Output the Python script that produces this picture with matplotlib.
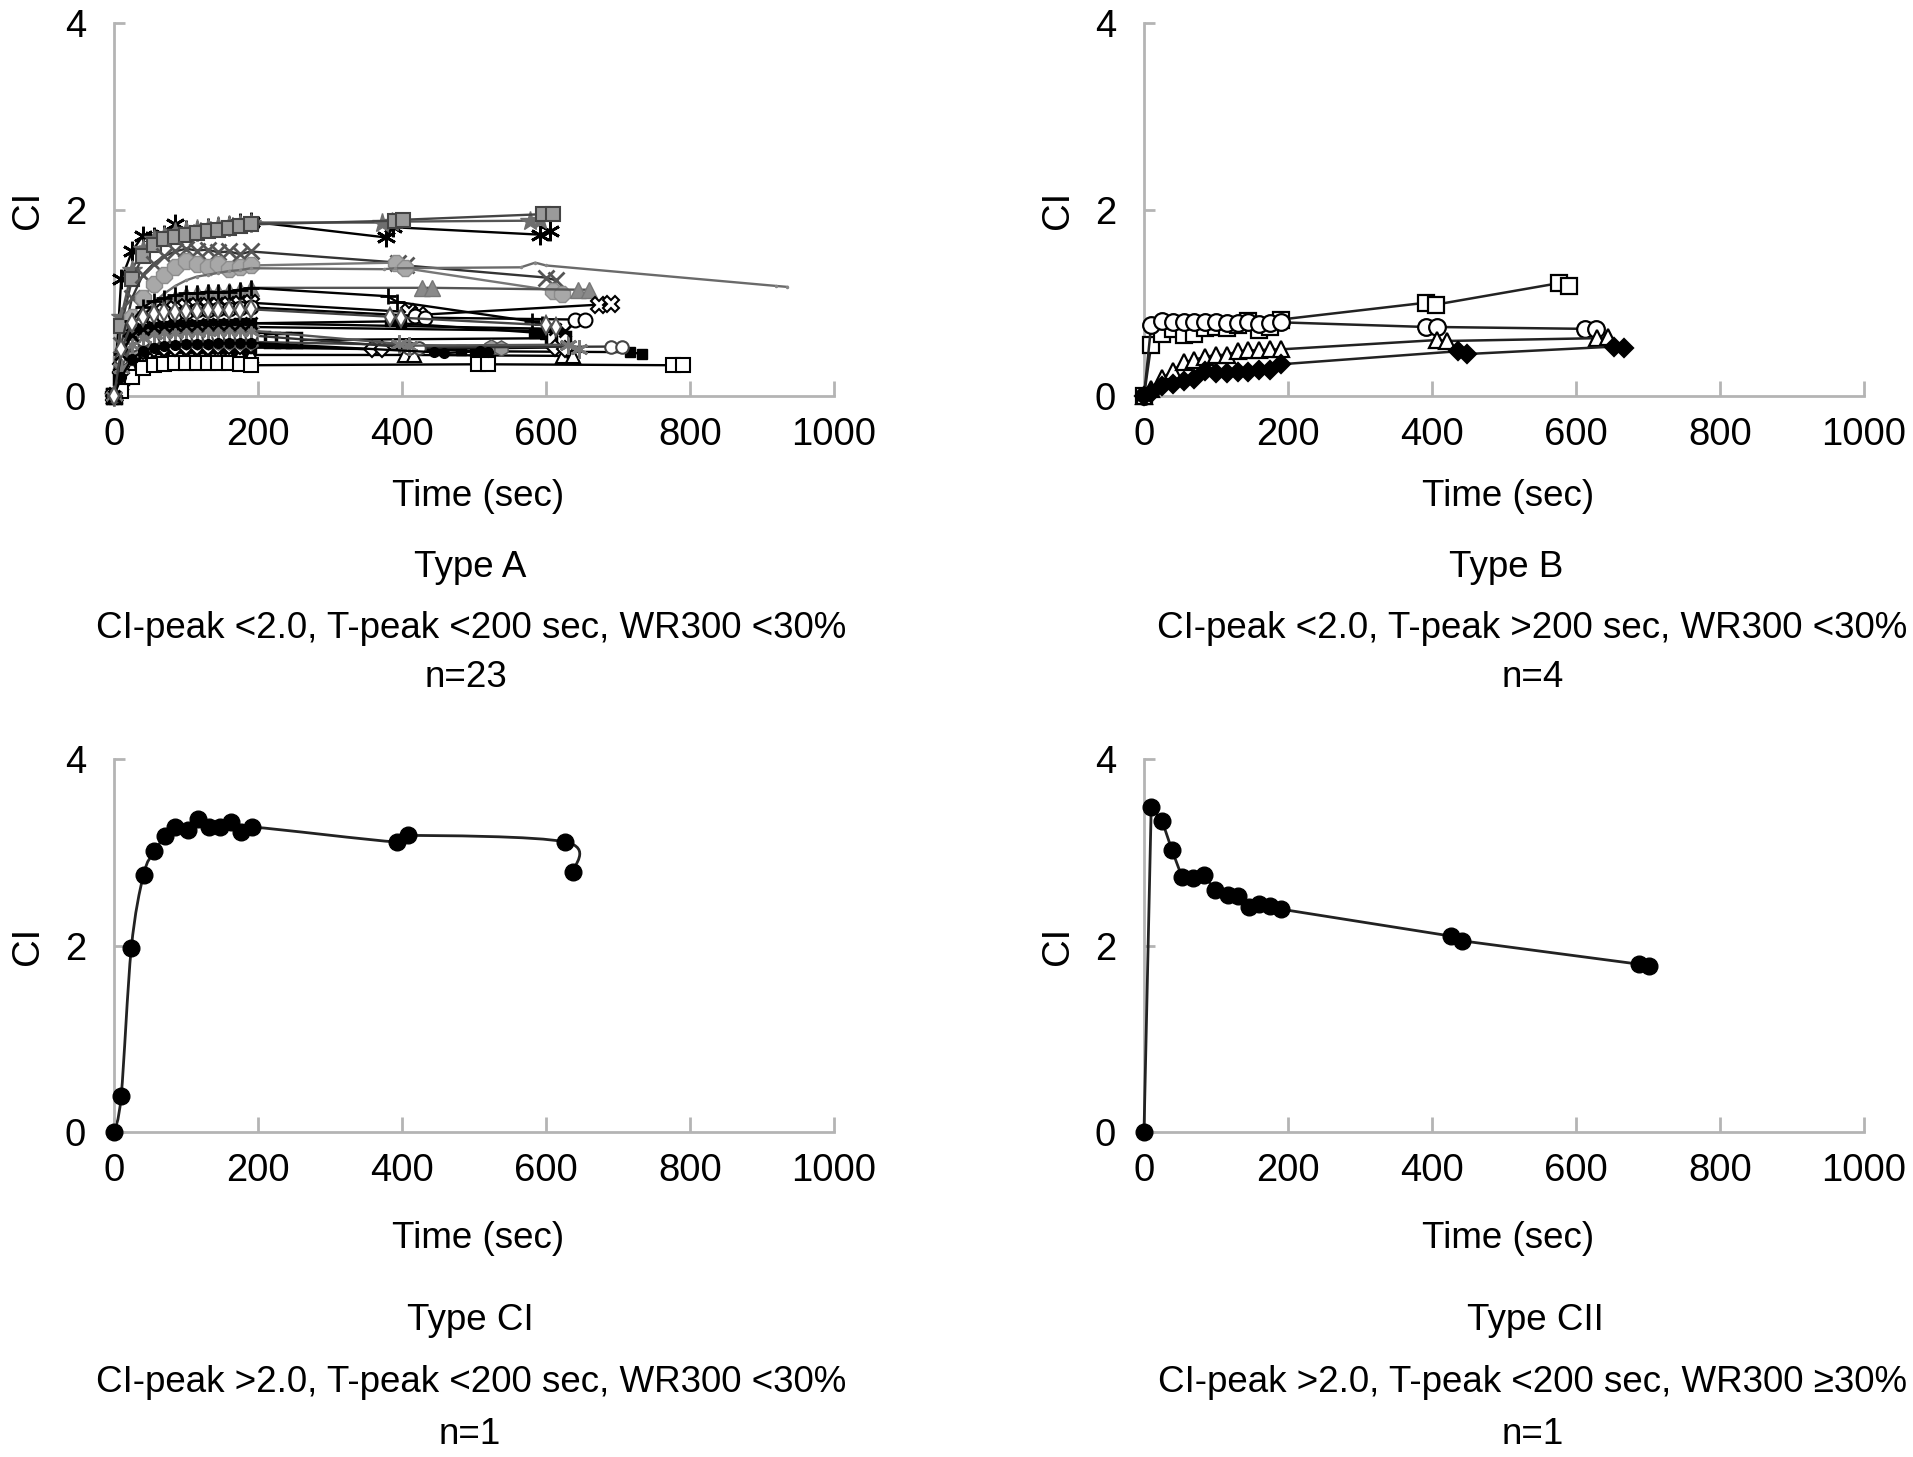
import matplotlib
matplotlib.use('Agg')
import matplotlib.pyplot as plt
from matplotlib.path import Path
from matplotlib.patches import PathPatch

plt.rcParams['font.family'] = ['Liberation Sans', 'DejaVu Sans']

# ---------------- data ----------------
# common early sampling times (sec)
t_early = [0, 10, 25, 40, 55, 70, 85, 100, 115, 130, 145, 160, 175, 190]

# Type A: 23 curves, CI at the early times, then a few late samples
typeA_early_ci = [
    [0, 1.25, 1.55, 1.72, 1.70, 1.73, 1.84, 1.78, 1.77, 1.80, 1.81, 1.82, 1.86, 1.87],
    [0, 0.85, 1.35, 1.58, 1.68, 1.72, 1.76, 1.78, 1.79, 1.80, 1.82, 1.83, 1.84, 1.86],
    [0, 0.75, 1.25, 1.50, 1.62, 1.68, 1.70, 1.73, 1.75, 1.77, 1.78, 1.80, 1.82, 1.84],
    [0, 0.55, 1.05, 1.30, 1.42, 1.50, 1.55, 1.58, 1.56, 1.57, 1.54, 1.55, 1.52, 1.55],
    [0, 0.40, 0.85, 1.05, 1.20, 1.30, 1.38, 1.45, 1.42, 1.38, 1.42, 1.36, 1.38, 1.40],
    [0, 0.30, 0.60, 0.85, 1.00, 1.10, 1.18, 1.24, 1.28, 1.30, 1.32, 1.34, 1.35, 1.37],
    [0, 0.35, 0.65, 0.85, 0.95, 1.00, 1.05, 1.08, 1.10, 1.12, 1.12, 1.13, 1.14, 1.16],
    [0, 0.45, 0.80, 0.95, 1.02, 1.05, 1.08, 1.10, 1.10, 1.12, 1.11, 1.12, 1.14, 1.16],
    [0, 0.30, 0.60, 0.75, 0.85, 0.90, 0.93, 0.95, 0.96, 0.97, 0.97, 0.98, 0.99, 1.00],
    [0, 0.30, 0.55, 0.70, 0.80, 0.85, 0.88, 0.90, 0.92, 0.92, 0.93, 0.93, 0.94, 0.95],
    [0, 0.40, 0.62, 0.72, 0.74, 0.75, 0.76, 0.76, 0.76, 0.77, 0.77, 0.77, 0.78, 0.78],
    [0, 0.35, 0.60, 0.68, 0.70, 0.71, 0.72, 0.72, 0.72, 0.72, 0.73, 0.73, 0.73, 0.74],
    [0, 0.20, 0.45, 0.55, 0.58, 0.60, 0.60, 0.60, 0.60, 0.60, 0.60, 0.60, 0.61, 0.61],
    [0, 0.15, 0.30, 0.38, 0.40, 0.42, 0.42, 0.43, 0.43, 0.43, 0.43, 0.44, 0.44, 0.44],
    [0, 0.05, 0.20, 0.30, 0.33, 0.34, 0.35, 0.35, 0.35, 0.35, 0.35, 0.35, 0.34, 0.33],
    [0, 0.30, 0.42, 0.48, 0.50, 0.50, 0.51, 0.51, 0.52, 0.52, 0.52, 0.52, 0.52, 0.52],
    [0, 0.25, 0.42, 0.48, 0.50, 0.52, 0.52, 0.53, 0.53, 0.53, 0.54, 0.54, 0.54, 0.55],
    [0, 0.35, 0.50, 0.55, 0.57, 0.58, 0.58, 0.58, 0.58, 0.58, 0.58, 0.58, 0.58, 0.58],
    [0, 0.40, 0.55, 0.60, 0.62, 0.63, 0.63, 0.64, 0.64, 0.64, 0.64, 0.65, 0.65, 0.65],
    [0, 0.30, 0.55, 0.62, 0.66, 0.68, 0.68, 0.69, 0.69, 0.70, 0.70, 0.70, 0.70, 0.70],
    [0, 0.45, 0.65, 0.72, 0.74, 0.75, 0.76, 0.76, 0.76, 0.77, 0.77, 0.77, 0.77, 0.78],
    [0, 0.20, 0.40, 0.48, 0.52, 0.54, 0.55, 0.56, 0.56, 0.56, 0.57, 0.57, 0.57, 0.57],
    [0, 0.50, 0.78, 0.85, 0.88, 0.90, 0.90, 0.91, 0.91, 0.92, 0.92, 0.92, 0.92, 0.93],
]
typeA_late_t = [
    [378, 388, 592, 606],
    [372, 386, 578, 592],
    [390, 402, 596, 610],
    [395, 405, 600, 614],
    [392, 404, 610, 622],
    [375, 390, 565, 585, 600, 920, 935],
    [428, 442, 645, 660],
    [380, 393, 580, 594],
    [410, 424, 674, 690],
    [418, 432, 640, 654],
    [384, 398, 584, 598],
    [590, 604],
    [205, 220, 235, 250, 610, 624],
    [404, 416, 624, 638],
    [506, 520, 776, 790],
    [482, 502, 716, 734],
    [358, 372, 612, 626],
    [524, 538],
    [410, 424, 690, 706],
    [396, 410, 630, 646],
    [612, 626],
    [444, 458, 508, 520],
    [384, 398, 600, 614],
]
typeA_late_ci = [
    [1.70, 1.81, 1.73, 1.77],
    [1.86, 1.87, 1.88, 1.89],
    [1.88, 1.89, 1.95, 1.95],
    [1.43, 1.40, 1.27, 1.24],
    [1.43, 1.37, 1.13, 1.09],
    [1.36, 1.37, 1.38, 1.43, 1.40, 1.18, 1.17],
    [1.16, 1.16, 1.14, 1.14],
    [1.07, 1.01, 0.80, 0.77],
    [0.90, 0.87, 0.98, 0.99],
    [0.86, 0.84, 0.82, 0.82],
    [0.80, 0.78, 0.68, 0.66],
    [0.70, 0.68],
    [0.61, 0.60, 0.60, 0.60, 0.62, 0.61],
    [0.44, 0.44, 0.43, 0.43],
    [0.34, 0.34, 0.33, 0.33],
    [0.49, 0.48, 0.47, 0.45],
    [0.50, 0.50, 0.52, 0.50],
    [0.53, 0.52],
    [0.52, 0.52, 0.53, 0.53],
    [0.56, 0.54, 0.55, 0.50],
    [0.72, 0.70],
    [0.47, 0.46, 0.48, 0.47],
    [0.85, 0.84, 0.76, 0.74],
]

# Type B: 4 curves
typeB_t = [0, 10, 25, 40, 55, 70, 85, 100, 115, 130, 145, 160, 175, 190]
typeB_square = [0, 0.55, 0.67, 0.72, 0.65, 0.67, 0.73, 0.74, 0.73, 0.76, 0.80, 0.71, 0.74, 0.82]
typeB_square_late_t = [391, 405, 576, 590]
typeB_square_late = [1.00, 0.98, 1.21, 1.18]
typeB_circle = [0, 0.76, 0.80, 0.79, 0.79, 0.79, 0.79, 0.79, 0.78, 0.78, 0.79, 0.77, 0.78, 0.79]
typeB_circle_late_t = [392, 407, 613, 628]
typeB_circle_late = [0.74, 0.74, 0.72, 0.72]
typeB_triangle = [0, 0.08, 0.19, 0.27, 0.36, 0.39, 0.42, 0.44, 0.44, 0.48, 0.49, 0.49, 0.50, 0.50]
typeB_triangle_late_t = [407, 421, 629, 645]
typeB_triangle_late = [0.60, 0.59, 0.62, 0.63]
typeB_diamond = [0, 0.03, 0.11, 0.13, 0.16, 0.18, 0.27, 0.25, 0.25, 0.26, 0.26, 0.28, 0.28, 0.34]
typeB_diamond_late_t = [436, 449, 653, 667]
typeB_diamond_late = [0.48, 0.45, 0.53, 0.52]

# Type CI: 1 curve (smoothed line)
typeCI_t = [0, 10, 24, 41, 56, 71, 85, 103, 116, 132, 147, 162, 177, 192, 393, 408, 627, 638]
typeCI_ci = [0, 0.39, 1.97, 2.76, 3.01, 3.17, 3.27, 3.24, 3.36, 3.27, 3.27, 3.32, 3.22, 3.27,
             3.11, 3.18, 3.11, 2.79]

# Type CII: 1 curve
typeCII_t = [0, 10, 25, 39, 53, 68, 83, 98, 116, 131, 146, 160, 175, 190, 427, 442, 687, 701]
typeCII_ci = [0, 3.48, 3.34, 3.02, 2.73, 2.72, 2.76, 2.60, 2.54, 2.53, 2.41, 2.45, 2.42, 2.39,
              2.10, 2.05, 1.80, 1.78]

x_ticks = [0, 200, 400, 600, 800, 1000]
y_ticks = [0, 2, 4]

# ---------------- styles ----------------
AX_GREY = '#b4b4b4'
FS_TICK = 27.5
FS = 26.5

typeA_styles = [
    dict(marker=(6, 2, 0), ms=14, mec='black', mfc='black', color='black', mew=2),
    dict(marker='*', ms=15, mec='#6e6e6e', mfc='#6e6e6e', color='#555555', mew=1),
    dict(marker='s', ms=10, mec='#444444', mfc='#9a9a9a', color='#444444', mew=1.5),
    dict(marker='x', ms=11, mec='#555555', mfc='none', color='#333333', mew=2),
    dict(marker='8', ms=12, mec='#8c8c8c', mfc='#a8a8a8', color='#777777', mew=1),
    dict(marker='.', ms=3, mec='#888888', mfc='#888888', color='#6a6a6a', mew=1),
    dict(marker='^', ms=11, mec='#777777', mfc='#8a8a8a', color='#555555', mew=1),
    dict(marker='+', ms=12, mec='black', mfc='none', color='black', mew=2),
    dict(marker='X', ms=12, mec='black', mfc='white', color='black', mew=1.5),
    dict(marker='o', ms=10, mec='black', mfc='white', color='black', mew=1.5),
    dict(marker='s', ms=7, mec='black', mfc='black', color='black', mew=1),
    dict(marker='_', ms=11, mec='black', mfc='black', color='black', mew=2.5),
    dict(marker='s', ms=10, mec='black', mfc='white', color='black', mew=2.5),
    dict(marker='^', ms=10, mec='black', mfc='white', color='black', mew=1.5),
    dict(marker='s', ms=10, mec='black', mfc='white', color='black', mew=1.5),
    dict(marker='s', ms=7, mec='black', mfc='black', color='black', mew=1),
    dict(marker='D', ms=8, mec='black', mfc='white', color='black', mew=1.5),
    dict(marker='h', ms=11, mec='#555555', mfc='#999999', color='#444444', mew=1),
    dict(marker='o', ms=9, mec='#444444', mfc='white', color='#333333', mew=1.5),
    dict(marker=(6, 2, 0), ms=13, mec='#777777', mfc='#777777', color='#555555', mew=2),
    dict(marker='x', ms=9, mec='black', mfc='none', color='black', mew=2),
    dict(marker='o', ms=7, mec='black', mfc='black', color='black', mew=1),
    dict(marker='d', ms=9, mec='#555555', mfc='white', color='#444444', mew=1.5),
]


def smooth_path(xs, ys):
    # Catmull-Rom style bezier through the points (like a spreadsheet smoothed line)
    px = [xs[0]] + list(xs) + [xs[-1]]
    py = [ys[0]] + list(ys) + [ys[-1]]
    verts = [(xs[0], ys[0])]
    codes = [Path.MOVETO]
    for i in range(1, len(px) - 2):
        c1 = (px[i] + (px[i + 1] - px[i - 1]) / 6, py[i] + (py[i + 1] - py[i - 1]) / 6)
        c2 = (px[i + 1] - (px[i + 2] - px[i]) / 6, py[i + 1] - (py[i + 2] - py[i]) / 6)
        verts += [c1, c2, (px[i + 1], py[i + 1])]
        codes += [Path.CURVE4] * 3
    return Path(verts, codes)


def style_axes(ax):
    ax.set_xlim(0, 1000)
    ax.set_ylim(0, 4)
    ax.set_xticks(x_ticks)
    ax.set_yticks(y_ticks)
    for side in ['top', 'right']:
        ax.spines[side].set_visible(False)
    for side in ['left', 'bottom']:
        ax.spines[side].set_color(AX_GREY)
        ax.spines[side].set_linewidth(2)
    ax.tick_params(axis='x', direction='in', length=11, width=2, color=AX_GREY,
                   labelsize=FS_TICK, pad=15)
    ax.tick_params(axis='y', direction='in', length=8, width=2, color=AX_GREY,
                   labelsize=FS_TICK, pad=20)
    ax.text(-0.12, 0.5, 'CI', transform=ax.transAxes, rotation=90,
            ha='center', va='center', fontsize=FS_TICK)


fig = plt.figure(figsize=(19.13, 14.57), dpi=100)
H = 1457.0
W = 1913.0
ax_w = 720 / W
ax_h = 373 / H
axA = fig.add_axes([114 / W, 1 - 396 / H, ax_w, ax_h])
axB = fig.add_axes([1144 / W, 1 - 396 / H, ax_w, ax_h])
axC1 = fig.add_axes([114 / W, 1 - 1132 / H, ax_w, ax_h])
axC2 = fig.add_axes([1144 / W, 1 - 1132 / H, ax_w, ax_h])
for ax in [axA, axB, axC1, axC2]:
    style_axes(ax)

# Type A
for i in range(len(typeA_early_ci)):
    st = typeA_styles[i]
    tt = t_early + typeA_late_t[i]
    cc = typeA_early_ci[i] + typeA_late_ci[i]
    axA.plot(tt, cc, lw=1.7, color=st['color'], marker=st['marker'], ms=st['ms'],
             mec=st['mec'], mfc=st['mfc'], mew=st['mew'], clip_on=False, zorder=3)

# Type B
b_series = [
    (typeB_square, typeB_square_late_t, typeB_square_late, 's', 'white'),
    (typeB_circle, typeB_circle_late_t, typeB_circle_late, 'o', 'white'),
    (typeB_triangle, typeB_triangle_late_t, typeB_triangle_late, '^', 'white'),
    (typeB_diamond, typeB_diamond_late_t, typeB_diamond_late, 'D', 'black'),
]
for early, lt, lc, mk, fc in b_series:
    axB.plot(typeB_t + lt, early + lc, lw=1.8, color='#222222', marker=mk,
             ms=12 if mk != 'D' else 9, mec='black', mfc=fc, mew=1.6,
             clip_on=False, zorder=3)

# Type CI (smoothed)
axC1.add_patch(PathPatch(smooth_path(typeCI_t, typeCI_ci), fc='none',
                         ec='#222222', lw=2, zorder=2))
axC1.plot(typeCI_t, typeCI_ci, ls='none', marker='o', ms=12, color='black',
          clip_on=False, zorder=3)

# Type CII
axC2.plot(typeCII_t, typeCII_ci, lw=2, color='#222222', marker='o', ms=12,
          mfc='black', mec='black', clip_on=False, zorder=3)


# labels beneath panels (positions in pixels of the 1913x1457 figure)
def ftext(x, y, s):
    fig.text(x / W, 1 - y / H, s, ha='center', va='center', fontsize=FS)


ftext(478, 497, 'Time (sec)')
ftext(1508, 497, 'Time (sec)')
ftext(470, 568, 'Type A')
ftext(471, 628, 'CI-peak <2.0, T-peak <200 sec, WR300 <30%')
ftext(466, 678, 'n=23')
ftext(1506, 568, 'Type B')
ftext(1532, 628, 'CI-peak <2.0, T-peak >200 sec, WR300 <30%')
ftext(1533, 678, 'n=4')

ftext(478, 1238, 'Time (sec)')
ftext(1508, 1238, 'Time (sec)')
ftext(470, 1321, 'Type CI')
ftext(471, 1382, 'CI-peak >2.0, T-peak <200 sec, WR300 <30%')
ftext(470, 1435, 'n=1')
ftext(1535, 1321, 'Type CII')
ftext(1532, 1382, 'CI-peak >2.0, T-peak <200 sec, WR300 \u226530%')
ftext(1533, 1435, 'n=1')

fig.savefig('out.png', dpi=100)
